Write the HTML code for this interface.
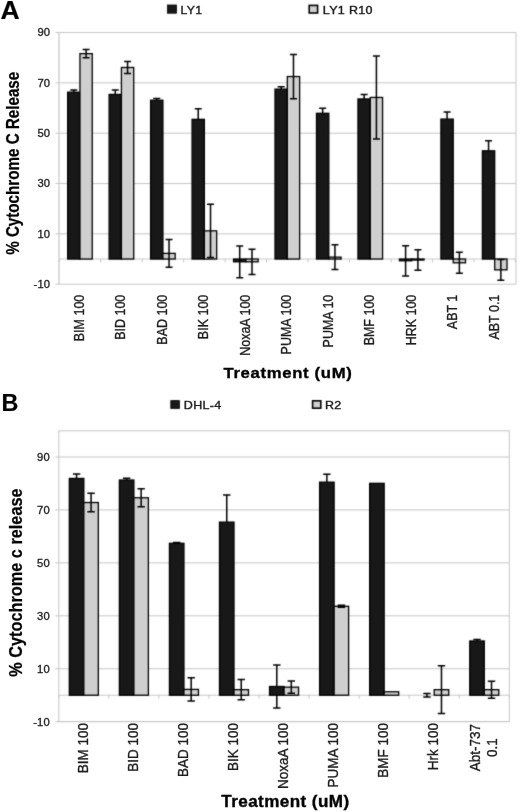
<!DOCTYPE html><html><head><meta charset="utf-8"><title>Cytochrome c release</title>
<style>html,body{margin:0;padding:0;background:#fff;width:520px;height:812px;overflow:hidden}svg{display:block;font-family:"Liberation Sans", sans-serif}</style></head><body>
<svg width="520" height="812" viewBox="0 0 520 812">
<defs><filter id="softT" x="0" y="0" width="520" height="812" filterUnits="userSpaceOnUse" primitiveUnits="userSpaceOnUse" color-interpolation-filters="sRGB"><feConvolveMatrix order="3" kernelMatrix="0.0003 0.0158 0.0003 0.0158 0.9358 0.0158 0.0003 0.0158 0.0003" edgeMode="duplicate"/></filter></defs>
<defs><filter id="soft" x="0" y="0" width="520" height="812" filterUnits="userSpaceOnUse" primitiveUnits="userSpaceOnUse" color-interpolation-filters="sRGB"><feConvolveMatrix order="3" kernelMatrix="0.0192 0.1001 0.0192 0.1001 0.5228 0.1001 0.0192 0.1001 0.0192" edgeMode="duplicate"/></filter></defs>
<rect width="520" height="812" fill="#fff"/>
<g filter="url(#soft)">
<rect x="167.5" y="5" width="9" height="8.2" fill="#181818" stroke="#000" stroke-width="0.8"/>
<rect x="309.2" y="5.4" width="8.4" height="7.6" fill="#cfcfcf" stroke="#000" stroke-width="1.6"/>
<rect x="170.8" y="400.6" width="8.6" height="7.8" fill="#181818" stroke="#000" stroke-width="0.8"/>
<rect x="312.6" y="400.8" width="8.2" height="7.4" fill="#cfcfcf" stroke="#000" stroke-width="1.6"/>
<line x1="55.5" y1="32.5" x2="516" y2="32.5" stroke="#c6c6c6" stroke-width="1"/>
<line x1="55.5" y1="82.84" x2="516" y2="82.84" stroke="#c6c6c6" stroke-width="1"/>
<line x1="55.5" y1="133.18" x2="516" y2="133.18" stroke="#c6c6c6" stroke-width="1"/>
<line x1="55.5" y1="183.52" x2="516" y2="183.52" stroke="#c6c6c6" stroke-width="1"/>
<line x1="55.5" y1="233.86" x2="516" y2="233.86" stroke="#c6c6c6" stroke-width="1"/>
<line x1="55.5" y1="284.2" x2="516" y2="284.2" stroke="#c6c6c6" stroke-width="1"/>
<line x1="59" y1="259.03" x2="516" y2="259.03" stroke="#c8c8c8" stroke-width="1"/>
<line x1="59.21" y1="259.03" x2="59.21" y2="262.53" stroke="#c8c8c8" stroke-width="1"/>
<line x1="100.69" y1="259.03" x2="100.69" y2="262.53" stroke="#c8c8c8" stroke-width="1"/>
<line x1="142.16" y1="259.03" x2="142.16" y2="262.53" stroke="#c8c8c8" stroke-width="1"/>
<line x1="183.64" y1="259.03" x2="183.64" y2="262.53" stroke="#c8c8c8" stroke-width="1"/>
<line x1="225.11" y1="259.03" x2="225.11" y2="262.53" stroke="#c8c8c8" stroke-width="1"/>
<line x1="266.58" y1="259.03" x2="266.58" y2="262.53" stroke="#c8c8c8" stroke-width="1"/>
<line x1="308.06" y1="259.03" x2="308.06" y2="262.53" stroke="#c8c8c8" stroke-width="1"/>
<line x1="349.53" y1="259.03" x2="349.53" y2="262.53" stroke="#c8c8c8" stroke-width="1"/>
<line x1="391.01" y1="259.03" x2="391.01" y2="262.53" stroke="#c8c8c8" stroke-width="1"/>
<line x1="432.49" y1="259.03" x2="432.49" y2="262.53" stroke="#c8c8c8" stroke-width="1"/>
<line x1="473.96" y1="259.03" x2="473.96" y2="262.53" stroke="#c8c8c8" stroke-width="1"/>
<line x1="515.44" y1="259.03" x2="515.44" y2="262.53" stroke="#c8c8c8" stroke-width="1"/>
<line x1="59" y1="32.5" x2="59" y2="284.2" stroke="#c6c6c6" stroke-width="1.2"/>
<line x1="516" y1="32.5" x2="516" y2="284.2" stroke="#c6c6c6" stroke-width="1"/>
<rect x="67.65" y="92.15" width="12.3" height="166.88" fill="#181818" stroke="#000" stroke-width="1.3"/>
<rect x="79.95" y="53.64" width="12.3" height="205.39" fill="#cfcfcf" stroke="#000" stroke-width="1.3"/>
<path d="M73.8 89.89V92.15M70.3 89.89H77.3" stroke="#000" stroke-width="1.5" fill="none"/>
<path d="M86.1 49.62V57.67M82.6 49.62H89.6M82.6 57.67H89.6" stroke="#000" stroke-width="1.5" fill="none"/>
<rect x="109.12" y="94.42" width="12.3" height="164.61" fill="#181818" stroke="#000" stroke-width="1.3"/>
<rect x="121.42" y="67.49" width="12.3" height="191.54" fill="#cfcfcf" stroke="#000" stroke-width="1.3"/>
<path d="M115.27 89.89V94.42M111.77 89.89H118.77" stroke="#000" stroke-width="1.5" fill="none"/>
<path d="M127.57 61.45V73.53M124.07 61.45H131.07M124.07 73.53H131.07" stroke="#000" stroke-width="1.5" fill="none"/>
<rect x="150.6" y="100.21" width="12.3" height="158.82" fill="#181818" stroke="#000" stroke-width="1.3"/>
<rect x="162.9" y="253.37" width="12.3" height="5.66" fill="#cfcfcf" stroke="#000" stroke-width="1.3"/>
<path d="M156.75 98.45V100.21M153.25 98.45H160.25" stroke="#000" stroke-width="1.5" fill="none"/>
<path d="M169.05 239.52V267.21M165.55 239.52H172.55M165.55 267.21H172.55" stroke="#000" stroke-width="1.5" fill="none"/>
<rect x="192.07" y="119.34" width="12.3" height="139.69" fill="#181818" stroke="#000" stroke-width="1.3"/>
<rect x="204.37" y="230.84" width="12.3" height="28.19" fill="#cfcfcf" stroke="#000" stroke-width="1.3"/>
<path d="M198.22 108.77V119.34M194.72 108.77H201.72" stroke="#000" stroke-width="1.5" fill="none"/>
<path d="M210.52 204.16V257.52M207.02 204.16H214.02M207.02 257.52H214.02" stroke="#000" stroke-width="1.5" fill="none"/>
<rect x="233.55" y="259.03" width="12.3" height="2.77" fill="#181818" stroke="#000" stroke-width="1.3"/>
<rect x="245.85" y="259.03" width="12.3" height="2.77" fill="#cfcfcf" stroke="#000" stroke-width="1.3"/>
<path d="M239.7 245.94V277.66M236.2 245.94H243.2M236.2 277.66H243.2" stroke="#000" stroke-width="1.5" fill="none"/>
<path d="M252 249.21V274.38M248.5 249.21H255.5M248.5 274.38H255.5" stroke="#000" stroke-width="1.5" fill="none"/>
<rect x="275.02" y="89.13" width="12.3" height="169.9" fill="#181818" stroke="#000" stroke-width="1.3"/>
<rect x="287.32" y="76.55" width="12.3" height="182.48" fill="#cfcfcf" stroke="#000" stroke-width="1.3"/>
<path d="M281.17 86.87V89.13M277.67 86.87H284.67" stroke="#000" stroke-width="1.5" fill="none"/>
<path d="M293.47 54.4V98.7M289.97 54.4H296.97M289.97 98.7H296.97" stroke="#000" stroke-width="1.5" fill="none"/>
<rect x="316.5" y="113.3" width="12.3" height="145.73" fill="#181818" stroke="#000" stroke-width="1.3"/>
<rect x="328.8" y="257.14" width="12.3" height="1.89" fill="#cfcfcf" stroke="#000" stroke-width="1.3"/>
<path d="M322.65 108.26V113.3M319.15 108.26H326.15" stroke="#000" stroke-width="1.5" fill="none"/>
<path d="M334.95 244.81V269.48M331.45 244.81H338.45M331.45 269.48H338.45" stroke="#000" stroke-width="1.5" fill="none"/>
<rect x="357.97" y="98.95" width="12.3" height="160.08" fill="#181818" stroke="#000" stroke-width="1.3"/>
<rect x="370.27" y="97.44" width="12.3" height="161.59" fill="#cfcfcf" stroke="#000" stroke-width="1.3"/>
<path d="M364.12 94.42V98.95M360.62 94.42H367.62" stroke="#000" stroke-width="1.5" fill="none"/>
<path d="M376.42 55.91V138.97M372.92 55.91H379.92M372.92 138.97H379.92" stroke="#000" stroke-width="1.5" fill="none"/>
<rect x="399.45" y="259.03" width="12.3" height="1.76" fill="#181818" stroke="#000" stroke-width="1.3"/>
<rect x="411.75" y="259.03" width="12.3" height="1.01" fill="#cfcfcf" stroke="#000" stroke-width="1.3"/>
<path d="M405.6 245.69V275.89M402.1 245.69H409.1M402.1 275.89H409.1" stroke="#000" stroke-width="1.5" fill="none"/>
<path d="M417.9 249.72V270.36M414.4 249.72H421.4M414.4 270.36H421.4" stroke="#000" stroke-width="1.5" fill="none"/>
<rect x="440.92" y="119.08" width="12.3" height="139.95" fill="#181818" stroke="#000" stroke-width="1.3"/>
<rect x="453.22" y="259.03" width="12.3" height="3.78" fill="#cfcfcf" stroke="#000" stroke-width="1.3"/>
<path d="M447.07 112.04V119.08M443.57 112.04H450.57" stroke="#000" stroke-width="1.5" fill="none"/>
<path d="M459.37 252.36V273.25M455.87 252.36H462.87M455.87 273.25H462.87" stroke="#000" stroke-width="1.5" fill="none"/>
<rect x="482.4" y="150.8" width="12.3" height="108.23" fill="#181818" stroke="#000" stroke-width="1.3"/>
<rect x="494.7" y="259.03" width="12.3" height="10.82" fill="#cfcfcf" stroke="#000" stroke-width="1.3"/>
<path d="M488.55 140.73V150.8M485.05 140.73H492.05" stroke="#000" stroke-width="1.5" fill="none"/>
<path d="M500.85 259.53V280.17M497.35 259.53H504.35M497.35 280.17H504.35" stroke="#000" stroke-width="1.5" fill="none"/>
<line x1="55.3" y1="457" x2="509.3" y2="457" stroke="#c6c6c6" stroke-width="1"/>
<line x1="55.3" y1="509.94" x2="509.3" y2="509.94" stroke="#c6c6c6" stroke-width="1"/>
<line x1="55.3" y1="562.88" x2="509.3" y2="562.88" stroke="#c6c6c6" stroke-width="1"/>
<line x1="55.3" y1="615.82" x2="509.3" y2="615.82" stroke="#c6c6c6" stroke-width="1"/>
<line x1="55.3" y1="668.76" x2="509.3" y2="668.76" stroke="#c6c6c6" stroke-width="1"/>
<line x1="55.3" y1="721.7" x2="509.3" y2="721.7" stroke="#c6c6c6" stroke-width="1"/>
<line x1="58.8" y1="695.23" x2="509.3" y2="695.23" stroke="#c8c8c8" stroke-width="1"/>
<line x1="58.8" y1="695.23" x2="58.8" y2="698.73" stroke="#c8c8c8" stroke-width="1"/>
<line x1="108.86" y1="695.23" x2="108.86" y2="698.73" stroke="#c8c8c8" stroke-width="1"/>
<line x1="158.91" y1="695.23" x2="158.91" y2="698.73" stroke="#c8c8c8" stroke-width="1"/>
<line x1="208.97" y1="695.23" x2="208.97" y2="698.73" stroke="#c8c8c8" stroke-width="1"/>
<line x1="259.02" y1="695.23" x2="259.02" y2="698.73" stroke="#c8c8c8" stroke-width="1"/>
<line x1="309.08" y1="695.23" x2="309.08" y2="698.73" stroke="#c8c8c8" stroke-width="1"/>
<line x1="359.13" y1="695.23" x2="359.13" y2="698.73" stroke="#c8c8c8" stroke-width="1"/>
<line x1="409.19" y1="695.23" x2="409.19" y2="698.73" stroke="#c8c8c8" stroke-width="1"/>
<line x1="459.24" y1="695.23" x2="459.24" y2="698.73" stroke="#c8c8c8" stroke-width="1"/>
<line x1="509.3" y1="695.23" x2="509.3" y2="698.73" stroke="#c8c8c8" stroke-width="1"/>
<rect x="58.8" y="430.8" width="450.5" height="290.7" fill="none" stroke="#c6c6c6" stroke-width="1"/>
<rect x="69.33" y="478.44" width="14.5" height="216.79" fill="#181818" stroke="#000" stroke-width="1.3"/>
<rect x="83.83" y="502.53" width="14.5" height="192.7" fill="#cfcfcf" stroke="#000" stroke-width="1.3"/>
<path d="M76.58 473.94V478.44M72.88 473.94H80.28" stroke="#000" stroke-width="1.5" fill="none"/>
<path d="M91.08 493.26V511.79M87.38 493.26H94.78M87.38 511.79H94.78" stroke="#000" stroke-width="1.5" fill="none"/>
<rect x="119.38" y="480.03" width="14.5" height="215.2" fill="#181818" stroke="#000" stroke-width="1.3"/>
<rect x="133.88" y="497.76" width="14.5" height="197.47" fill="#cfcfcf" stroke="#000" stroke-width="1.3"/>
<path d="M126.63 478.18V480.03M122.93 478.18H130.33" stroke="#000" stroke-width="1.5" fill="none"/>
<path d="M141.13 488.76V506.76M137.43 488.76H144.83M137.43 506.76H144.83" stroke="#000" stroke-width="1.5" fill="none"/>
<rect x="169.44" y="543.29" width="14.5" height="151.94" fill="#181818" stroke="#000" stroke-width="1.3"/>
<rect x="183.94" y="689.41" width="14.5" height="5.82" fill="#cfcfcf" stroke="#000" stroke-width="1.3"/>
<path d="M176.69 542.5V543.29M172.99 542.5H180.39" stroke="#000" stroke-width="1.5" fill="none"/>
<path d="M191.19 677.76V701.05M187.49 677.76H194.89M187.49 701.05H194.89" stroke="#000" stroke-width="1.5" fill="none"/>
<rect x="219.49" y="522.12" width="14.5" height="173.11" fill="#181818" stroke="#000" stroke-width="1.3"/>
<rect x="233.99" y="689.67" width="14.5" height="5.56" fill="#cfcfcf" stroke="#000" stroke-width="1.3"/>
<path d="M226.74 495.12V522.12M223.04 495.12H230.44" stroke="#000" stroke-width="1.5" fill="none"/>
<path d="M241.24 679.61V699.73M237.54 679.61H244.94M237.54 699.73H244.94" stroke="#000" stroke-width="1.5" fill="none"/>
<rect x="269.55" y="686.49" width="14.5" height="8.74" fill="#181818" stroke="#000" stroke-width="1.3"/>
<rect x="284.05" y="687.16" width="14.5" height="8.07" fill="#cfcfcf" stroke="#000" stroke-width="1.3"/>
<path d="M276.8 665.05V686.49M273.1 665.05H280.5" stroke="#000" stroke-width="1.5" fill="none"/>
<path d="M276.8 695.23V707.94M273.1 707.94H280.5" stroke="#000" stroke-width="1.5" fill="none"/>
<path d="M291.3 681.07V693.24M287.6 681.07H295M287.6 693.24H295" stroke="#000" stroke-width="1.5" fill="none"/>
<rect x="319.61" y="482.15" width="14.5" height="213.08" fill="#181818" stroke="#000" stroke-width="1.3"/>
<rect x="334.11" y="606.29" width="14.5" height="88.94" fill="#cfcfcf" stroke="#000" stroke-width="1.3"/>
<path d="M326.86 474.21V482.15M323.16 474.21H330.56" stroke="#000" stroke-width="1.5" fill="none"/>
<path d="M341.36 605.23V607.35M337.66 605.23H345.06M337.66 607.35H345.06" stroke="#000" stroke-width="1.5" fill="none"/>
<rect x="369.66" y="483.34" width="14.5" height="211.89" fill="#181818" stroke="#000" stroke-width="1.3"/>
<rect x="384.16" y="691.79" width="14.5" height="3.44" fill="#cfcfcf" stroke="#000" stroke-width="1.3"/>
<rect x="434.22" y="689.67" width="14.5" height="5.56" fill="#cfcfcf" stroke="#000" stroke-width="1.3"/>
<path d="M426.97 693.38V697.08M423.27 693.38H430.67M423.27 697.08H430.67" stroke="#000" stroke-width="1.5" fill="none"/>
<path d="M441.47 665.85V713.49M437.77 665.85H445.17M437.77 713.49H445.17" stroke="#000" stroke-width="1.5" fill="none"/>
<rect x="469.77" y="640.97" width="14.5" height="54.26" fill="#181818" stroke="#000" stroke-width="1.3"/>
<rect x="484.27" y="689.67" width="14.5" height="5.56" fill="#cfcfcf" stroke="#000" stroke-width="1.3"/>
<path d="M477.02 639.38V640.97M473.32 639.38H480.72" stroke="#000" stroke-width="1.5" fill="none"/>
<path d="M491.52 681.2V698.14M487.82 681.2H495.22M487.82 698.14H495.22" stroke="#000" stroke-width="1.5" fill="none"/>
</g>
<g filter="url(#softT)">
<text transform="translate(0.5,19) scale(1.04,1)" font-size="25.5" fill="#000" font-weight="bold" stroke="#000" stroke-width="0.2">A</text>
<text transform="translate(1.6,411.2) scale(0.95,1)" font-size="24.6" fill="#000" font-weight="bold" stroke="#000" stroke-width="0.2">B</text>
<text transform="translate(180.6,13.6) scale(1.05,1)" font-size="11.6" fill="#1a1a1a" letter-spacing="0.3" stroke="#1a1a1a" stroke-width="0.4">LY1</text>
<text transform="translate(322.8,13.6) scale(1.08,1)" font-size="11.6" fill="#1a1a1a" letter-spacing="0.3" stroke="#1a1a1a" stroke-width="0.4">LY1 R10</text>
<text transform="translate(183.8,408.7) scale(1.08,1)" font-size="11.6" fill="#1a1a1a" letter-spacing="0.3" stroke="#1a1a1a" stroke-width="0.4">DHL-4</text>
<text transform="translate(325,408.8) scale(1.08,1)" font-size="11.6" fill="#1a1a1a" letter-spacing="0.3" stroke="#1a1a1a" stroke-width="0.4">R2</text>
<text transform="translate(50.3,36.4) scale(1.06,1)" font-size="10.6" fill="#1a1a1a" text-anchor="end" letter-spacing="0.2" stroke="#1a1a1a" stroke-width="0.3">90</text>
<text transform="translate(50.3,86.74) scale(1.06,1)" font-size="10.6" fill="#1a1a1a" text-anchor="end" letter-spacing="0.2" stroke="#1a1a1a" stroke-width="0.3">70</text>
<text transform="translate(50.3,137.08) scale(1.06,1)" font-size="10.6" fill="#1a1a1a" text-anchor="end" letter-spacing="0.2" stroke="#1a1a1a" stroke-width="0.3">50</text>
<text transform="translate(50.3,187.42) scale(1.06,1)" font-size="10.6" fill="#1a1a1a" text-anchor="end" letter-spacing="0.2" stroke="#1a1a1a" stroke-width="0.3">30</text>
<text transform="translate(50.3,237.76) scale(1.06,1)" font-size="10.6" fill="#1a1a1a" text-anchor="end" letter-spacing="0.2" stroke="#1a1a1a" stroke-width="0.3">10</text>
<text transform="translate(50.3,288.1) scale(1.06,1)" font-size="10.6" fill="#1a1a1a" text-anchor="end" letter-spacing="0.2" stroke="#1a1a1a" stroke-width="0.3">-10</text>
<text transform="translate(83.95,294.7) scale(1.1,1) rotate(-90)" font-size="12.5" fill="#1a1a1a" text-anchor="end" stroke="#1a1a1a" stroke-width="0.3">BIM 100</text>
<text transform="translate(125.42,294.7) scale(1.1,1) rotate(-90)" font-size="12.5" fill="#1a1a1a" text-anchor="end" stroke="#1a1a1a" stroke-width="0.3">BID 100</text>
<text transform="translate(166.9,294.7) scale(1.1,1) rotate(-90)" font-size="12.5" fill="#1a1a1a" text-anchor="end" stroke="#1a1a1a" stroke-width="0.3">BAD 100</text>
<text transform="translate(208.37,294.7) scale(1.1,1) rotate(-90)" font-size="12.5" fill="#1a1a1a" text-anchor="end" stroke="#1a1a1a" stroke-width="0.3">BIK 100</text>
<text transform="translate(249.85,294.7) scale(1.1,1) rotate(-90)" font-size="12.5" fill="#1a1a1a" text-anchor="end" stroke="#1a1a1a" stroke-width="0.3">NoxaA 100</text>
<text transform="translate(291.32,294.7) scale(1.1,1) rotate(-90)" font-size="12.5" fill="#1a1a1a" text-anchor="end" stroke="#1a1a1a" stroke-width="0.3">PUMA 100</text>
<text transform="translate(332.8,294.7) scale(1.1,1) rotate(-90)" font-size="12.5" fill="#1a1a1a" text-anchor="end" stroke="#1a1a1a" stroke-width="0.3">PUMA 10</text>
<text transform="translate(374.27,294.7) scale(1.1,1) rotate(-90)" font-size="12.5" fill="#1a1a1a" text-anchor="end" stroke="#1a1a1a" stroke-width="0.3">BMF 100</text>
<text transform="translate(415.75,294.7) scale(1.1,1) rotate(-90)" font-size="12.5" fill="#1a1a1a" text-anchor="end" stroke="#1a1a1a" stroke-width="0.3">HRK 100</text>
<text transform="translate(457.22,294.7) scale(1.1,1) rotate(-90)" font-size="12.5" fill="#1a1a1a" text-anchor="end" stroke="#1a1a1a" stroke-width="0.3">ABT 1</text>
<text transform="translate(498.7,294.7) scale(1.1,1) rotate(-90)" font-size="12.5" fill="#1a1a1a" text-anchor="end" stroke="#1a1a1a" stroke-width="0.3">ABT 0.1</text>
<text transform="translate(50,460.9) scale(1.06,1)" font-size="10.6" fill="#1a1a1a" text-anchor="end" letter-spacing="0.2" stroke="#1a1a1a" stroke-width="0.3">90</text>
<text transform="translate(50,513.84) scale(1.06,1)" font-size="10.6" fill="#1a1a1a" text-anchor="end" letter-spacing="0.2" stroke="#1a1a1a" stroke-width="0.3">70</text>
<text transform="translate(50,566.78) scale(1.06,1)" font-size="10.6" fill="#1a1a1a" text-anchor="end" letter-spacing="0.2" stroke="#1a1a1a" stroke-width="0.3">50</text>
<text transform="translate(50,619.72) scale(1.06,1)" font-size="10.6" fill="#1a1a1a" text-anchor="end" letter-spacing="0.2" stroke="#1a1a1a" stroke-width="0.3">30</text>
<text transform="translate(50,672.66) scale(1.06,1)" font-size="10.6" fill="#1a1a1a" text-anchor="end" letter-spacing="0.2" stroke="#1a1a1a" stroke-width="0.3">10</text>
<text transform="translate(50,725.6) scale(1.06,1)" font-size="10.6" fill="#1a1a1a" text-anchor="end" letter-spacing="0.2" stroke="#1a1a1a" stroke-width="0.3">-10</text>
<text transform="translate(87.83,723) scale(1.1,1) rotate(-90)" font-size="13.5" fill="#1a1a1a" text-anchor="end" stroke="#1a1a1a" stroke-width="0.3">BIM 100</text>
<text transform="translate(137.88,723) scale(1.1,1) rotate(-90)" font-size="13.5" fill="#1a1a1a" text-anchor="end" stroke="#1a1a1a" stroke-width="0.3">BID 100</text>
<text transform="translate(187.94,723) scale(1.1,1) rotate(-90)" font-size="13.5" fill="#1a1a1a" text-anchor="end" stroke="#1a1a1a" stroke-width="0.3">BAD 100</text>
<text transform="translate(237.99,723) scale(1.1,1) rotate(-90)" font-size="13.5" fill="#1a1a1a" text-anchor="end" stroke="#1a1a1a" stroke-width="0.3">BIK 100</text>
<text transform="translate(288.05,723) scale(1.1,1) rotate(-90)" font-size="13.5" fill="#1a1a1a" text-anchor="end" stroke="#1a1a1a" stroke-width="0.3">NoxaA 100</text>
<text transform="translate(338.11,723) scale(1.1,1) rotate(-90)" font-size="13.5" fill="#1a1a1a" text-anchor="end" stroke="#1a1a1a" stroke-width="0.3">PUMA 100</text>
<text transform="translate(388.16,723) scale(1.1,1) rotate(-90)" font-size="13.5" fill="#1a1a1a" text-anchor="end" stroke="#1a1a1a" stroke-width="0.3">BMF 100</text>
<text transform="translate(438.22,723) scale(1.1,1) rotate(-90)" font-size="13.5" fill="#1a1a1a" text-anchor="end" stroke="#1a1a1a" stroke-width="0.3">Hrk 100</text>
<text transform="translate(479.77,747.7) scale(1.1,1) rotate(-90)" font-size="13.5" fill="#1a1a1a" text-anchor="middle" stroke="#1a1a1a" stroke-width="0.3">Abt-737</text>
<text transform="translate(496.77,747.7) scale(1.1,1) rotate(-90)" font-size="13.5" fill="#1a1a1a" text-anchor="middle" stroke="#1a1a1a" stroke-width="0.3">0.1</text>
<text transform="translate(18.8,163.3) scale(1.15,1) rotate(-90)" font-size="15.2" fill="#000" text-anchor="middle" font-weight="bold" stroke="#000" stroke-width="0.2">% Cytochrome C Release</text>
<text transform="translate(21.8,582.6) scale(1.12,1) rotate(-90)" font-size="16.3" fill="#000" text-anchor="middle" font-weight="bold" stroke="#000" stroke-width="0.2">% Cytochrome c release</text>
<text transform="translate(288,378.3) scale(1.1,1)" font-size="15.2" fill="#000" text-anchor="middle" font-weight="bold" letter-spacing="0.6" stroke="#000" stroke-width="0.35">Treatment (uM)</text>
<text transform="translate(285.4,806.6) scale(1.08,1)" font-size="15.8" fill="#000" text-anchor="middle" font-weight="bold" letter-spacing="0.4" stroke="#000" stroke-width="0.35">Treatment (uM)</text>
</g>
</svg></body></html>
